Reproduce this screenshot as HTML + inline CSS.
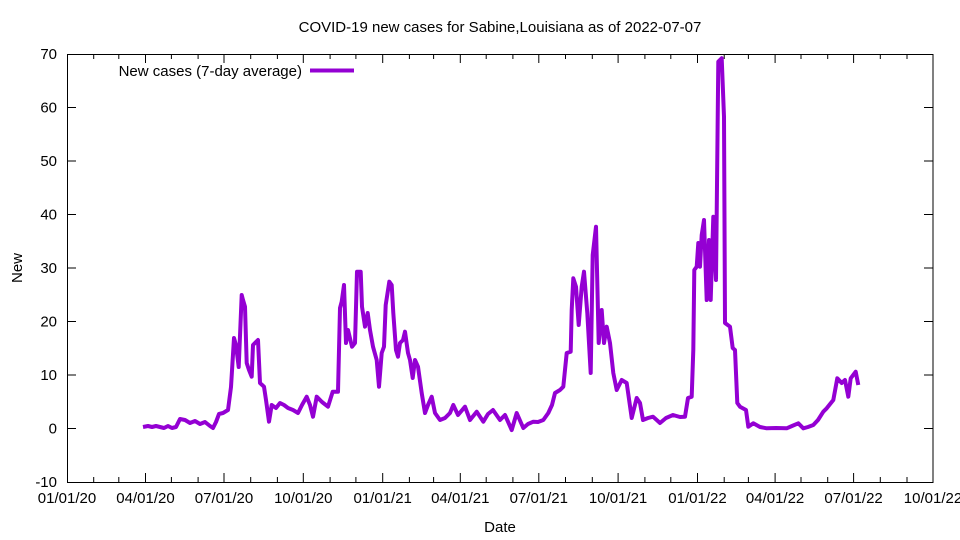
<!DOCTYPE html>
<html><head><meta charset="utf-8"><style>
html,body{margin:0;padding:0;background:#fff;}
svg{display:block;font-family:"Liberation Sans",Arial,sans-serif;}
</style></head><body>
<svg width="960" height="540" viewBox="0 0 960 540" xmlns="http://www.w3.org/2000/svg">
<rect width="960" height="540" fill="#fff"/>
<text x="500" y="32" font-size="15" text-anchor="middle">COVID-19 new cases for Sabine,Louisiana as of 2022-07-07</text>
<g stroke="#000" stroke-width="1" fill="none">
<rect x="67.5" y="54.5" width="865.5" height="428"/>
<path d="M67 428.5h9M933 428.5h-9M67 375h9M933 375h-9M67 321.5h9M933 321.5h-9M67 268h9M933 268h-9M67 214.5h9M933 214.5h-9M67 161h9M933 161h-9M67 107.5h9M933 107.5h-9"/>
<path d="M145.5 482v-9M224 482v-9M303.3 482v-9M382.7 482v-9M460.3 482v-9M538.8 482v-9M618.1 482v-9M697.5 482v-9M775.1 482v-9M853.6 482v-9
M145.5 54v9M224 54v9M303.3 54v9M382.7 54v9M460.3 54v9M538.8 54v9M618.1 54v9M697.5 54v9M775.1 54v9M853.6 54v9"/>
<path d="M93.7 482v-5M118.8 482v-5M171.4 482v-5M198.1 482v-5M250.7 482v-5M277.4 482v-5M330.1 482v-5M355.9 482v-5M409.4 482v-5M433.6 482v-5M486.2 482v-5M512.9 482v-5M565.5 482v-5M592.3 482v-5M644.9 482v-5M670.8 482v-5M724.2 482v-5M748.4 482v-5M801 482v-5M827.7 482v-5M880.3 482v-5M907 482v-5
M93.7 54v5M118.8 54v5M171.4 54v5M198.1 54v5M250.7 54v5M277.4 54v5M330.1 54v5M355.9 54v5M409.4 54v5M433.6 54v5M486.2 54v5M512.9 54v5M565.5 54v5M592.3 54v5M644.9 54v5M670.8 54v5M724.2 54v5M748.4 54v5M801 54v5M827.7 54v5M880.3 54v5M907 54v5"/>
</g>
<g font-size="15" text-anchor="end">
<text x="57" y="59">70</text><text x="57" y="166">50</text><text x="57" y="112.5">60</text>
<text x="57" y="219.5">40</text><text x="57" y="273">30</text><text x="57" y="326.5">20</text>
<text x="57" y="380">10</text><text x="57" y="433.5">0</text><text x="57" y="487">-10</text>
</g>
<g font-size="15" text-anchor="middle">
<text x="67" y="503">01/01/20</text><text x="145.5" y="503">04/01/20</text><text x="224" y="503">07/01/20</text>
<text x="303.3" y="503">10/01/20</text><text x="382.7" y="503">01/01/21</text><text x="460.3" y="503">04/01/21</text>
<text x="538.8" y="503">07/01/21</text><text x="618.1" y="503">10/01/21</text><text x="697.5" y="503">01/01/22</text>
<text x="775.1" y="503">04/01/22</text><text x="853.6" y="503">07/01/22</text><text x="933" y="503">10/01/22</text>
<text x="500" y="532">Date</text>
</g>
<text x="22" y="268" font-size="15" text-anchor="middle" transform="rotate(-90 22 268)">New</text>
<text x="302" y="76" font-size="15" text-anchor="end">New cases (7-day average)</text>
<line x1="310" y1="70.5" x2="354" y2="70.5" stroke="#9400d3" stroke-width="4"/>
<polyline fill="none" stroke="#9400d3" stroke-width="4" stroke-linejoin="round" points="
143,427 148,426 152,427 156,426 160,427 164,428 168,426 172,428 176,427 180,419 185,420 190,423 195,421 200,424 205,422 210,426 213,428 216,422 219,414 223,413 228,410 231,387 234,338 236,345 238.7,367 241.7,295 243,300 245,306.7 246.7,363 249,370 251.7,376.7 253,345 258,340 260,383 264,386.7 266,400 269,421.7 271.7,405 276,408 280,403 284,405 288,408 293,410 298,413 302,405 306.7,396.7 310,405 313,416.7 316.7,396.7 322,402 328,406.7 332.7,391.7 338,391.7 340,308 341.7,301.7 344,285 346,343 348,330 352,346.7 355,343 357,271.7 360.7,271.7 362,306.7 365,326.7 367.7,313 370,330 373,346.7 376.7,360 379,386.7 381.7,353 384,346.7 385.7,305 389.3,281.7 391.7,285 393.3,313 396,350 398,356.7 400,343 403,340 405,331.7 408,353 410,360 412.7,378 415,360 418,366.7 421.7,393 425,413 428,405 431.7,396.7 435,413 440,420 445,418 450,413 453.3,405 458,415 465,406.7 470,420 476.7,411.7 483.3,421.7 488,414 493,410 500,420 505,415 511.7,430 516.7,413 523.3,428 528,424 533.3,421.7 538,422 543.3,420 548.3,413 552,405 555,393 560,390 563.3,386.7 566.7,353 570.7,351.7 571.7,310 573.3,278.3 576,286.7 578.7,325 581.7,286.7 584,271.7 587.3,313 590.7,373 592.7,255 596,226.7 598.7,343 601.7,310 604,343 606.7,326.7 610,343 613.3,373 616.7,390 621.7,380 626.7,383 631.7,418 636.7,398 640,403 643,420 648,418 653,416.7 660,423 666,418 673,415 680,417 685,416.7 688,398 691.7,396.7 693.3,350 694.3,270 696.7,266.7 698.3,243 700,266.7 701.7,235 704,220 706.7,300 709,240 710.7,300 713.3,216.7 716,280 718.3,61.7 721.7,58.3 724,116.7 725,323 730,326.7 732.7,348 735,350 737.3,403 740,406.7 746,410 748.3,426.7 753.3,423.3 760,427 766.7,428.3 776,428 786.7,428.3 792,426 798.3,423.3 803.3,428.3 808,427 813.3,425 818,420 823.3,411.7 826.7,408.3 833.3,400 837.3,378.3 841.7,383 845,380 848.3,396.7 850.7,378.3 855.7,371.7 858.3,385"/>
</svg>
</body></html>
